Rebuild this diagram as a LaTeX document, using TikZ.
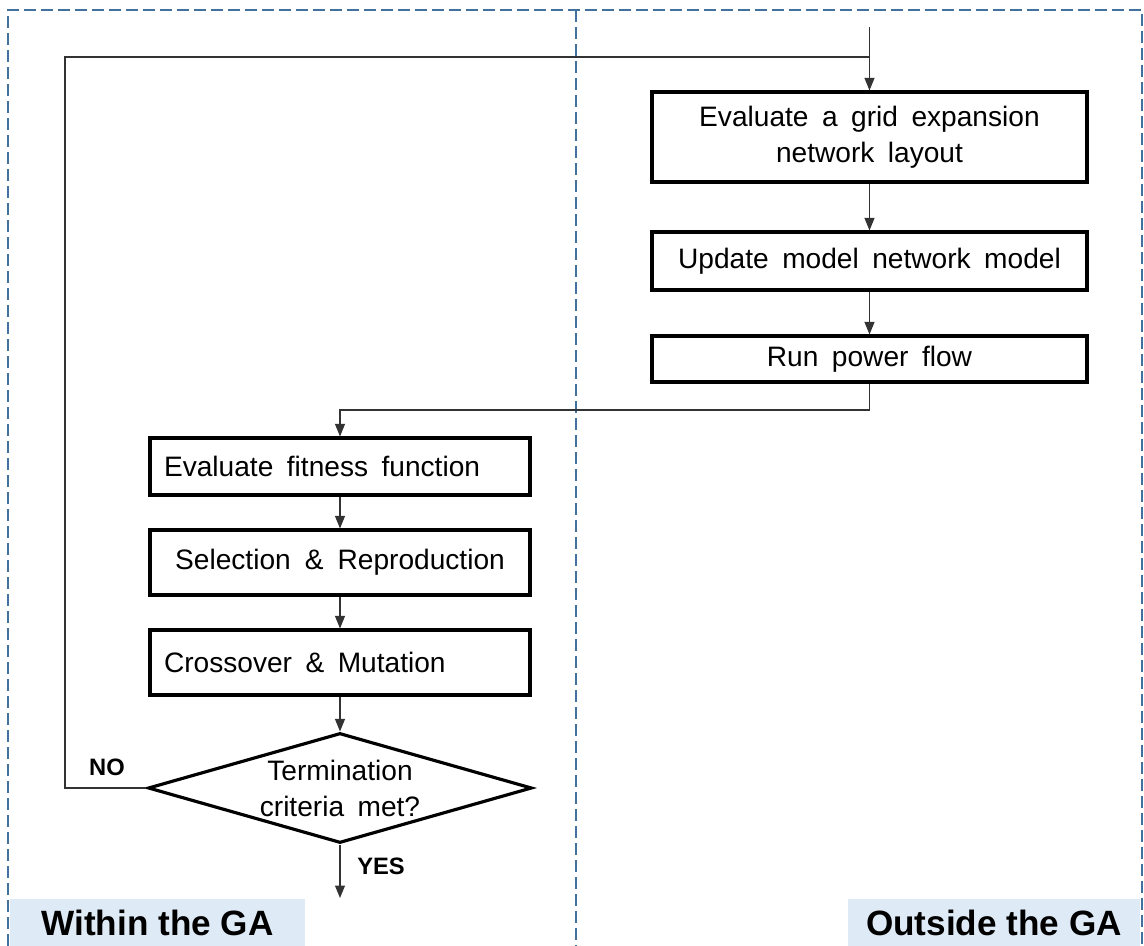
\documentclass[tikz,border=0pt]{standalone}
\usepackage{fontspec}
\setmainfont{Liberation Sans}
\usetikzlibrary{arrows.meta, shapes.geometric}

\definecolor{frameblue}{HTML}{41719C}
\definecolor{labelblue}{HTML}{DEEAF6}

\newcommand{\boxfont}{\fontsize{16}{20.5}\selectfont\spaceskip=0.48em plus 0.1em}

\tikzset{
  stepbox/.style={draw, line width=1.8pt, minimum width=8.7cm, inner sep=0pt,
    font=\boxfont, align=center},
  gabox/.style={draw, line width=1.8pt, minimum width=7.6cm, text width=7.04cm,
    inner xsep=0.28cm, inner ysep=0pt, font=\boxfont, align=left,
    execute at begin node={\spaceskip=0.48em plus 0.1em}},
  decision/.style={draw, diamond, line width=1.8pt, minimum width=7.68cm, minimum height=2.2cm,
    inner sep=0pt, aspect=3.5, font=\boxfont, align=center},
  conn/.style={line width=0.6pt, black!80},
  arr/.style={conn, -{Triangle[length=0.25cm, width=0.2cm]}},
  answer/.style={font=\fontsize{13.5}{16}\selectfont\bfseries},
  region/.style={fill=labelblue, minimum height=0.94cm, inner sep=0pt,
    font=\fontsize{20}{24}\selectfont\bfseries},
  frame/.style={frameblue, line width=1pt, dash pattern=on 0.24cm off 0.1cm}
}

\begin{document}
\begin{tikzpicture}[x=0.02cm, y=-0.02cm]
\useasboundingbox (0,0) rectangle (1144,946);

% dashed regions
\draw[frame] (8,946)--(8,10)--(1142,10)--(1142,946);
\draw[frame] (576,10)--(576,946);

% labels of the two regions
\node[region, minimum width=5.9cm] (within) at (157.5,922.5) {Within the GA};
\node[region, minimum width=5.84cm] (outside) at (994,922.5) {Outside the GA};

% outside the GA
\node[stepbox, minimum height=1.8cm] (layout) at (869.5,137)
  {Evaluate a grid expansion\\network layout};
\node[stepbox, minimum height=1.16cm] (update) at (869.5,261) {Update model network model};
\node[stepbox, minimum height=0.92cm] (flow) at (869.5,359) {Run power flow};

% within the GA
\node[gabox, minimum height=1.14cm] (fitness) at (340,466.5) {Evaluate fitness function};
\node[gabox, minimum height=1.3cm, align=center] (select) at (340,562.5) {Selection \& Reproduction};
\node[gabox, minimum height=1.3cm] (cross) at (340,662.5) {Crossover \& Mutation};
\node[decision] (stop) at (340,788) {Termination\\criteria met?};

\coordinate (start) at (869.5,27);
\coordinate (join) at (869.5,57);
\coordinate (back) at (65,57);
\coordinate (turn) at (869.5,410);
\coordinate (done) at (340,898);

% connectors
\draw[arr] (start) -- (layout.north);
\draw[arr] (layout.south) -- (update.north);
\draw[arr] (update.south) -- (flow.north);
\draw[arr] (flow.south) -- (turn) -| (fitness.north);
\draw[arr] (fitness.south) -- (select.north);
\draw[arr] (select.south) -- (cross.north);
\draw[arr] (cross.south) -- (stop.north);
\draw[conn] (stop.west) -| (back) -- (join);
\draw[arr] (stop.south) -- (done);

\node[answer] (no) at (107,767) {NO};
\node[answer] (yes) at (381,866) {YES};
\end{tikzpicture}
\end{document}
